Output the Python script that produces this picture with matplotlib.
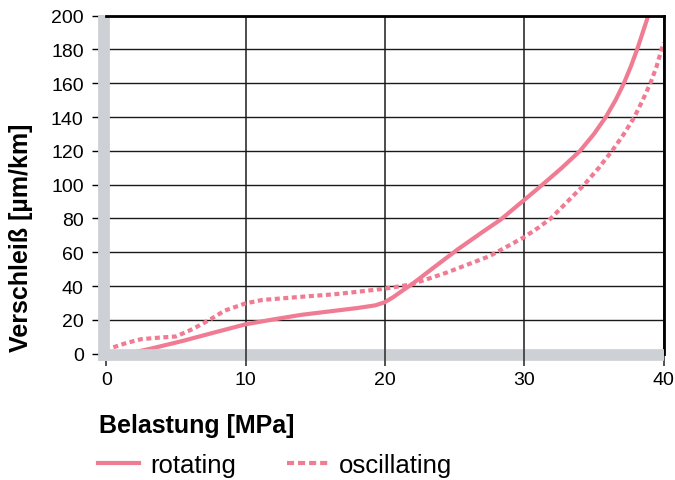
import matplotlib
matplotlib.use("Agg")
import matplotlib.pyplot as plt
from matplotlib.lines import Line2D

plt.rcParams['font.family'] = ['Liberation Sans', 'DejaVu Sans']

# Verschleiß über Belastung
x_rot = [1.5, 3.2, 5.5, 7.5, 10.0, 12.0, 14.0, 16.0, 18.0, 19.3, 20.0, 20.6, 21.2,
         22.0, 23.5, 25.2, 27.0, 28.3, 30.0, 31.3, 32.7, 34.0, 35.0, 35.85, 36.55,
         37.15, 37.65, 38.1, 38.5, 38.9, 39.0]
y_rot = [0.0, 3.0, 7.6, 12.0, 17.4, 20.3, 23.0, 25.0, 27.0, 28.6, 30.5, 33.5, 37.0,
         41.5, 51.0, 61.6, 72.0, 79.3, 91.0, 100.0, 110.0, 120.0, 130.0, 140.0, 150.0,
         160.0, 170.0, 180.0, 190.0, 200.0, 202.5]

x_osc = [0.5, 1.5, 2.5, 3.8, 5.0, 6.2, 7.4, 8.5, 10.0, 11.2, 12.7, 14.5, 16.3, 18.0,
         20.0, 21.9, 24.4, 27.5, 30.0, 31.0, 31.9, 33.1, 34.3, 35.35, 36.3, 37.15,
         37.9, 38.5, 39.05, 39.5, 39.85, 40.0]
y_osc = [3.8, 6.5, 8.6, 9.5, 10.2, 14.6, 20.0, 25.5, 29.8, 31.8, 32.8, 34.0, 35.1, 36.6,
         38.5, 41.0, 47.9, 57.7, 69.0, 74.5, 80.0, 90.0, 100.0, 110.0, 120.0, 130.0,
         140.0, 150.0, 160.0, 170.0, 180.0, 184.0]

xticks = [0, 10, 20, 30, 40]
yticks = list(range(0, 201, 20))
labels = ['rotating', 'oscillating']

pink = '#f07c94'
grau = '#cdd0d4'

fig = plt.figure(figsize=(6.75, 4.81), dpi=100)
ax = fig.add_axes([0.1576, 0.2626, 0.8255, 0.7027])

ax.plot(x_rot, y_rot, color=pink, lw=3, zorder=2.2, solid_joinstyle='round')
ax.plot(x_osc, y_osc, color=pink, lw=3, dashes=(1.2, 0.85), zorder=2.2)

ax.set_xlim(0, 40)
ax.set_ylim(0, 200)
ax.set_xticks(xticks)
ax.set_yticks(yticks)

# Gitter
ax.yaxis.grid(True, color='#1a1a1a', lw=1.0)
ax.xaxis.grid(True, color='#4d4d4d', lw=1.4)

# graue Achsbalken
for s in ['left', 'bottom']:
    ax.spines[s].set_color(grau)
    ax.spines[s].set_capstyle('butt')
ax.spines['left'].set_linewidth(8.5)
ax.spines['bottom'].set_linewidth(8.4)
ax.spines['left'].set_position(('outward', 1.7))
ax.spines['bottom'].set_position(('outward', 0.8))
ax.spines['left'].set_bounds(-4.3, 200)
ax.spines['bottom'].set_bounds(-0.55, 40)
for s in ['top', 'right']:
    ax.spines[s].set_color('black')
    ax.spines[s].set_linewidth(2)

# Gitterlinien laufen durch den Balken
ax.vlines(xticks[1:-1], -4.4, 3.0, color='#4d4d4d', lw=1.4, zorder=2.6, clip_on=False)

ax.tick_params(axis='y', length=8.6, width=1, color='black', pad=6, labelsize=14)
ax.tick_params(axis='x', length=8.0, width=1.2, color='#333333', pad=4, labelsize=14)

ax.set_xlabel('Belastung [MPa]', fontsize=18, fontweight='bold', ha='left', va='baseline')
ax.xaxis.set_label_coords(-0.0133, -0.2317)
ax.set_ylabel('Verschleiß [µm/km]', fontsize=18, fontweight='bold', ha='center', va='center')
ax.yaxis.set_label_coords(-0.154, 0.345)

handles = [Line2D([], [], color=pink, lw=3),
           Line2D([], [], color=pink, lw=3, dashes=(1.7, 0.95))]
fig.legend(handles, labels, loc='lower left', bbox_to_anchor=(0.145, 0.006), ncol=2,
           frameon=False, fontsize=18.5, handlelength=1.6, handletextpad=0.45,
           columnspacing=1.95, borderpad=0, borderaxespad=0)

fig.savefig('out.png', dpi=100)
